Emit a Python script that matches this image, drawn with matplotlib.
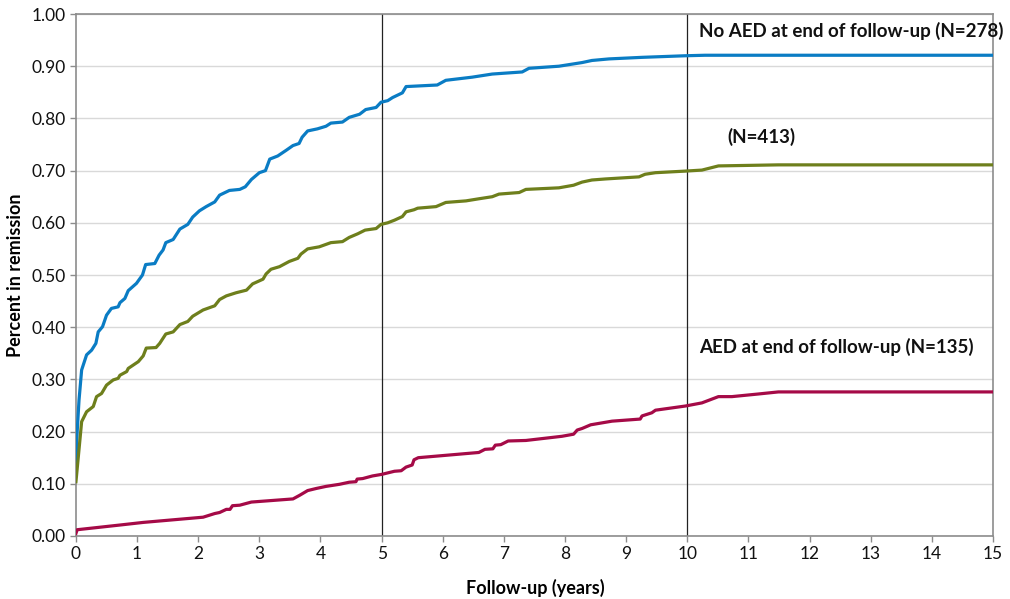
import matplotlib
matplotlib.use("Agg")
import matplotlib.pyplot as plt

plt.rcParams['font.family'] = ['Lato', 'DejaVu Sans']

# follow-up time (years) and cumulative remission, per group
t_no_aed = [0, 0.02, 0.05, 0.093, 0.174, 0.256, 0.326, 0.364, 0.435, 0.50, 0.58, 0.69, 0.72,
            0.80, 0.855, 0.99, 1.088, 1.14, 1.29, 1.36, 1.425, 1.47, 1.59, 1.70, 1.83, 1.91,
            2.02, 2.13, 2.27, 2.35, 2.51, 2.68, 2.77, 2.87, 3.00, 3.10, 3.17, 3.30, 3.44,
            3.55, 3.65, 3.70, 3.79, 3.95, 4.09, 4.17, 4.36, 4.47, 4.64, 4.74, 4.91, 4.99,
            5.10, 5.18, 5.34, 5.40, 5.91, 6.05, 6.48, 6.59, 6.81, 7.30, 7.41, 7.90, 8.28,
            8.44, 8.72, 9.26, 9.96, 10.29, 15]
v_no_aed = [0.14, 0.20, 0.26, 0.318, 0.347, 0.356, 0.369, 0.391, 0.401, 0.423, 0.436, 0.439,
            0.447, 0.455, 0.470, 0.484, 0.500, 0.520, 0.522, 0.538, 0.548, 0.562, 0.568,
            0.588, 0.597, 0.611, 0.623, 0.631, 0.640, 0.653, 0.662, 0.664, 0.669, 0.683,
            0.696, 0.700, 0.722, 0.728, 0.739, 0.748, 0.752, 0.764, 0.776, 0.780, 0.785,
            0.791, 0.793, 0.802, 0.808, 0.817, 0.821, 0.831, 0.834, 0.840, 0.849, 0.861,
            0.864, 0.873, 0.879, 0.881, 0.885, 0.889, 0.896, 0.900, 0.907, 0.911, 0.914,
            0.917, 0.920, 0.921, 0.921]

t_all = [0, 0.093, 0.174, 0.283, 0.337, 0.419, 0.50, 0.61, 0.69, 0.72, 0.83, 0.855, 1.02,
         1.10, 1.15, 1.31, 1.37, 1.47, 1.59, 1.70, 1.83, 1.91, 2.08, 2.27, 2.35, 2.46, 2.62,
         2.79, 2.89, 3.06, 3.11, 3.19, 3.33, 3.49, 3.63, 3.68, 3.79, 3.98, 4.17, 4.36, 4.47,
         4.61, 4.73, 4.91, 4.99, 5.10, 5.21, 5.34, 5.40, 5.53, 5.59, 5.89, 6.05, 6.38, 6.59,
         6.81, 6.92, 7.25, 7.36, 7.90, 8.14, 8.28, 8.44, 8.66, 9.21, 9.31, 9.48, 9.96, 10.24,
         10.51, 11.49, 15]
v_all = [0.104, 0.219, 0.238, 0.248, 0.267, 0.273, 0.289, 0.299, 0.302, 0.308, 0.315, 0.321,
         0.334, 0.345, 0.360, 0.361, 0.369, 0.387, 0.391, 0.405, 0.411, 0.421, 0.433, 0.441,
         0.453, 0.460, 0.466, 0.471, 0.483, 0.492, 0.502, 0.511, 0.516, 0.526, 0.532, 0.540,
         0.550, 0.554, 0.562, 0.564, 0.572, 0.579, 0.586, 0.589, 0.597, 0.600, 0.605, 0.612,
         0.621, 0.625, 0.628, 0.631, 0.639, 0.642, 0.646, 0.650, 0.655, 0.658, 0.664, 0.667,
         0.672, 0.678, 0.682, 0.684, 0.688, 0.693, 0.696, 0.699, 0.701, 0.709, 0.711, 0.711]

t_aed = [0, 0.02, 0.72, 1.10, 2.08, 2.27, 2.35, 2.46, 2.52, 2.56, 2.68, 2.87, 3.55, 3.66,
         3.79, 3.93, 4.09, 4.31, 4.47, 4.58, 4.60, 4.69, 4.85, 5.0, 5.21, 5.32, 5.40, 5.50,
         5.53, 5.60, 6.59, 6.69, 6.82, 6.86, 6.95, 7.07, 7.36, 7.95, 8.14, 8.20, 8.28, 8.42,
         8.77, 9.23, 9.26, 9.42, 9.48, 9.97, 10.24, 10.51, 10.73, 11.16, 11.49, 15]
v_aed = [0.005, 0.012, 0.021, 0.026, 0.036, 0.043, 0.045, 0.051, 0.051, 0.058, 0.059, 0.065,
         0.071, 0.078, 0.087, 0.091, 0.095, 0.099, 0.103, 0.104, 0.109, 0.110, 0.115, 0.118,
         0.124, 0.125, 0.132, 0.136, 0.146, 0.150, 0.160, 0.166, 0.167, 0.174, 0.175, 0.182,
         0.183, 0.191, 0.195, 0.203, 0.206, 0.213, 0.220, 0.224, 0.230, 0.236, 0.241, 0.249,
         0.255, 0.267, 0.267, 0.272, 0.276, 0.276]

x_ticks = list(range(0, 16))
y_ticks = [i / 10 for i in range(11)]
marker_years = [5, 10]

fig = plt.figure(figsize=(10.10, 5.99), dpi=100)
ax = fig.add_axes([0.0752, 0.1052, 0.9079, 0.8714])

ax.plot(t_no_aed, v_no_aed, color="#0a7cc4", lw=2.3, zorder=3)
ax.plot(t_all, v_all, color="#6e7f1c", lw=2.3, zorder=3)
ax.plot(t_aed, v_aed, color="#a50a47", lw=2.3, zorder=3)

for yr in marker_years:
    ax.axvline(yr, color="#222222", lw=0.9, zorder=2)

ax.set_xlim(0, 15)
ax.set_ylim(0, 1)
ax.set_xticks(x_ticks)
ax.set_yticks(y_ticks)
ax.set_yticklabels([f"{y:.2f}" for y in y_ticks])
ax.grid(axis="y", color="#d9d9d9", lw=1.0, zorder=0)
ax.set_axisbelow(True)
for s in ax.spines.values():
    s.set_color("#8c8c8c")
    s.set_linewidth(1.2)
ax.tick_params(axis="both", colors="#8c8c8c", labelcolor="#111111", labelsize=12.5,
               length=4, width=1)

# axis titles placed in figure coordinates
fig.text(0.530, 0.018, "Follow-up (years)", fontsize=13, fontweight="bold",
         ha="center", va="center")
fig.text(0.015, 0.54, "Percent in remission", fontsize=13, fontweight="bold",
         ha="center", va="center", rotation=90)

lab = dict(fontsize=13.5, fontweight="bold", va="center", ha="left", color="#111111")
ax.text(10.2, 0.968, "No AED at end of follow-up (N=278)", **lab)
ax.text(10.65, 0.764, "(N=413)", **lab)
ax.text(10.2, 0.363, "AED at end of follow-up (N=135)", **lab)

fig.savefig("out.png", dpi=100)
